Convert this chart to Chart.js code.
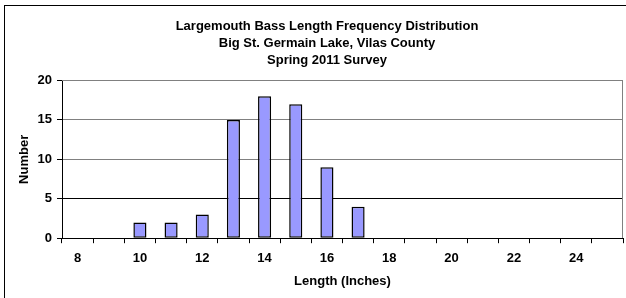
<!DOCTYPE html>
<html>
<head>
<meta charset="utf-8">
<script src="https://cdn.jsdelivr.net/npm/chart.js@4/dist/chart.umd.min.js"></script>
<style>
  html, body { margin: 0; padding: 0; background: #fff; overflow: hidden; width: 626px; height: 298px; }
  #wrap { position: absolute; left: 0; top: 0; width: 654px; height: 298px; }
  #frame { position: absolute; left: 4px; top: 5px; width: 700px; height: 400px; border-left: 1px solid #000; border-top: 1px solid #000; pointer-events: none; }
</style>
</head>
<body>
<div id="wrap"><canvas id="c" width="654" height="298"></canvas></div>
<div id="frame"></div>
<script>
const lengths = [8, 9, 10, 11, 12, 13, 14, 15, 16, 17, 18, 19, 20, 21, 22, 23, 24, 25];
const counts  = [0, 0, 2, 2, 3, 15, 18, 17, 9, 4, 0, 0, 0, 0, 0, 0, 0, 0];
const yTicks  = [0, 5, 10, 15, 20];
const titleLines = ['Largemouth Bass Length Frequency Distribution', 'Big St. Germain Lake, Vilas County', 'Spring 2011 Survey'];
const xTitle = 'Length (Inches)';
const yTitle = 'Number';

const FONT = '"Liberation Sans", Arial, sans-serif';

const plotFrame = {
  id: 'plotFrame',
  afterDatasetsDraw(chart) {
    const {ctx, chartArea: a} = chart;
    ctx.save();
    ctx.strokeStyle = '#808080';
    ctx.lineWidth = 1;
    ctx.beginPath();
    ctx.moveTo(Math.round(a.left), Math.round(a.top) + 0.5);
    ctx.lineTo(Math.round(a.right) - 0.5, Math.round(a.top) + 0.5);
    ctx.lineTo(Math.round(a.right) - 0.5, Math.round(a.bottom));
    ctx.stroke();
    ctx.restore();
  }
};

new Chart(document.getElementById('c'), {
  type: 'bar',
  data: {
    labels: lengths.map(String),
    datasets: [{
      data: counts,
      backgroundColor: '#9999FF',
      borderColor: '#000000',
      borderWidth: 1.5,
      borderSkipped: false,
      categoryPercentage: 1,
      barPercentage: 0.42
    }]
  },
  options: {
    responsive: false,
    animation: false,
    devicePixelRatio: 1,
    layout: { padding: { left: 31, right: 31, top: 0, bottom: 9 } },
    plugins: {
      legend: { display: false },
      tooltip: { enabled: false },
      title: {
        display: true,
        text: titleLines,
        color: '#000',
        font: { family: FONT, size: 13, weight: 'bold', lineHeight: 1.32 },
        padding: { top: 18, bottom: 11 }
      }
    },
    scales: {
      x: {
        type: 'category',
        offset: true,
        grid: {
          display: true,
          offset: true,
          drawOnChartArea: false,
          drawTicks: true,
          tickLength: 5,
          tickColor: '#000',
          color: '#000'
        },
        border: { display: true, color: '#000', width: 1 },
        ticks: {
          autoSkip: false,
          maxRotation: 0,
          minRotation: 0,
          padding: 7,
          color: '#000',
          font: { family: FONT, size: 13, weight: 'bold' },
          callback: (v, i) => (lengths[i] % 2 === 0 ? String(lengths[i]) : '')
        },
        title: {
          display: true,
          text: xTitle,
          color: '#000',
          font: { family: FONT, size: 13, weight: 'bold' },
          padding: { top: 0.6, bottom: 0 }
        }
      },
      y: {
        min: 0,
        max: 20,
        afterBuildTicks: (s) => { s.ticks = yTicks.map(v => ({ value: v })); },
        afterFit: (s) => { s.width = 31; },
        grid: {
          drawOnChartArea: true,
          drawTicks: true,
          tickLength: 5,
          tickColor: '#000',
          color: (c) => (c.tick && (c.tick.value === 5 || c.tick.value === 0) ? '#000' : '#808080')
        },
        border: { display: true, color: '#000', width: 1 },
        ticks: {
          padding: 5,
          color: '#000',
          font: { family: FONT, size: 13, weight: 'bold' }
        },
        title: {
          display: true,
          text: yTitle,
          color: '#000',
          font: { family: FONT, size: 13, weight: 'bold' },
          padding: { top: -14.8, bottom: 0 }
        }
      }
    }
  },
  plugins: [plotFrame]
});
</script>
</body>
</html>
